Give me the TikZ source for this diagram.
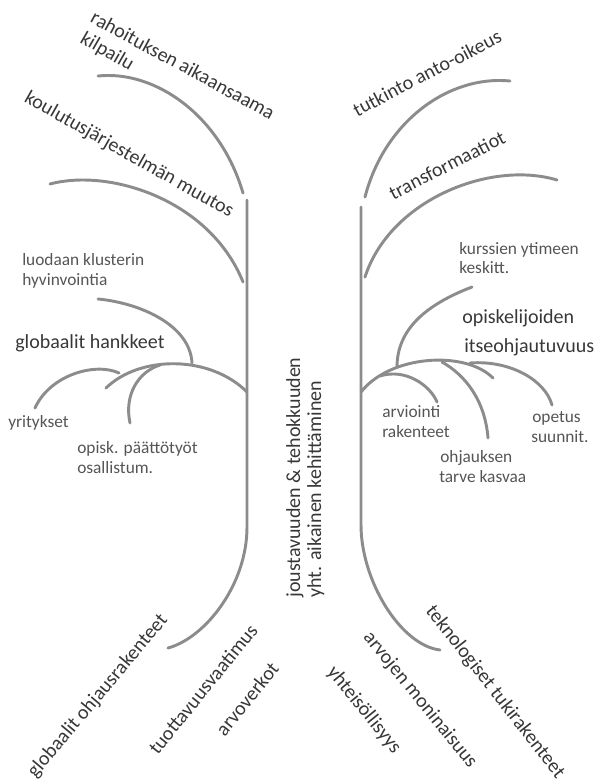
\documentclass[tikz,border=0pt]{standalone}
\usepackage{fontspec}
\setmainfont{Carlito}
\definecolor{branch}{RGB}{140,140,140}
\definecolor{labeldark}{RGB}{55,55,55}
\definecolor{labellight}{RGB}{85,85,85}
\begin{document}
\begin{tikzpicture}[x=0.75pt,y=-0.75pt,
  limb/.style={draw=branch,line width=2.2pt,line cap=round},
  big/.style={font=\fontsize{15}{18}\selectfont,text=labeldark,inner sep=0pt},
  small/.style={font=\fontsize{13}{15}\selectfont,text=labellight,inner sep=0pt},
]
\useasboundingbox (0,0) rectangle (598,784);

% ---------- left tree ----------
\draw[limb] (247,200) -- (247,527) .. controls (247,585) and (205,638) .. (168,648);
\draw[limb] (98,76) .. controls (155,70) and (220,115) .. (243,193);
\draw[limb] (50,184) .. controls (110,168) and (210,200) .. (243,282);
\draw[limb] (98,299) .. controls (140,303) and (190,325) .. (192,363);
\draw[limb] (106,388) .. controls (140,355) and (210,355) .. (247,392);
\draw[limb] (35,408) .. controls (50,375) and (95,362) .. (119,373);
\draw[limb] (130,423) .. controls (124,395) and (138,372) .. (160,365);

% ---------- right tree ----------
\draw[limb] (361,207) -- (361,525) .. controls (361,580) and (400,645) .. (440,650);
\draw[limb] (365,197) .. controls (385,120) and (450,75) .. (510,81);
\draw[limb] (365,277) .. controls (390,200) and (490,160) .. (557,180);
\draw[limb] (397,367) .. controls (397,330) and (425,305) .. (472,287);
\draw[limb] (361,392) .. controls (390,355) and (465,350) .. (493,378);
\draw[limb] (380,376) .. controls (405,368) and (430,385) .. (437,402);
\draw[limb] (442,362) .. controls (465,375) and (485,400) .. (488,438);
\draw[limb] (470,363) .. controls (510,360) and (545,380) .. (552,405);

% ---------- slanted labels ----------
\node[big,rotate=-28.5] (rahoitus) at (183,65) {rahoituksen aikaansaama};
\node[big,rotate=-30] (kilpailu) at (107,52) {kilpailu};
\node[big,rotate=-29.5] (koulutus) at (129,155) {koulutusjärjestelmän muutos};
\node[big,rotate=27.5] (tutkinto) at (427,73) {tutkinto anto-oikeus};
\node[big,rotate=27] (transf) at (447,165) {transformaatiot};
\node[big,rotate=50] (globohj) at (98,696) {globaalit ohjausrakenteet};
\node[big,rotate=51] (tuott) at (203,689) {tuottavuusvaatimus};
\node[big,rotate=51] (arvoverkot) at (247,699) {arvoverkot};
\node[big,rotate=-51] (arvojen) at (420,700) {arvojen moninaisuus};
\node[big,rotate=-51] (yhteis) at (364,710) {yhteisöllisyys};
\node[big,rotate=-52] (teknol) at (495,692) {teknologiset tukirakenteet};

% ---------- vertical label ----------
\node[big,rotate=90,anchor=base west] (jousto) at (300,598) {joustavuuden \& tehokkuuden};
\node[big,rotate=90,anchor=base west] (yhtaik) at (321,598) {yht. aikainen kehittäminen};

% ---------- horizontal labels ----------
\node[small,anchor=base west] (luo1) at (22,265) {luodaan klusterin};
\node[small,anchor=base west] (luo2) at (22,285) {hyvinvointia};
\node[big,anchor=base west] (globhank) at (15,348) {globaalit hankkeet};
\node[small,anchor=base west] (yrit) at (8,427) {yritykset};
\node[small,anchor=base west] (opisk1) at (77,453) {opisk. päättötyöt};
\node[small,anchor=base west] (opisk2) at (77,473) {osallistum.};
\node[small,anchor=base west] (kurs1) at (459,254) {kurssien ytimeen};
\node[small,anchor=base west] (kurs2) at (459,273) {keskitt.};
\node[big,anchor=base west] (itse1) at (462,323) {opiskelijoiden};
\node[big,anchor=base west] (itse2) at (464,352) {itseohjautuvuus};
\node[small,anchor=base west] (arv1) at (382,417) {arviointi};
\node[small,anchor=base west] (arv2) at (382,437) {rakenteet};
\node[small,anchor=base west] (ohj1) at (440,462) {ohjauksen};
\node[small,anchor=base west] (ohj2) at (439,482) {tarve kasvaa};
\node[small,anchor=base west] (ope1) at (532,422) {opetus};
\node[small,anchor=base west] (ope2) at (531,442) {suunnit.};
\end{tikzpicture}
\end{document}
